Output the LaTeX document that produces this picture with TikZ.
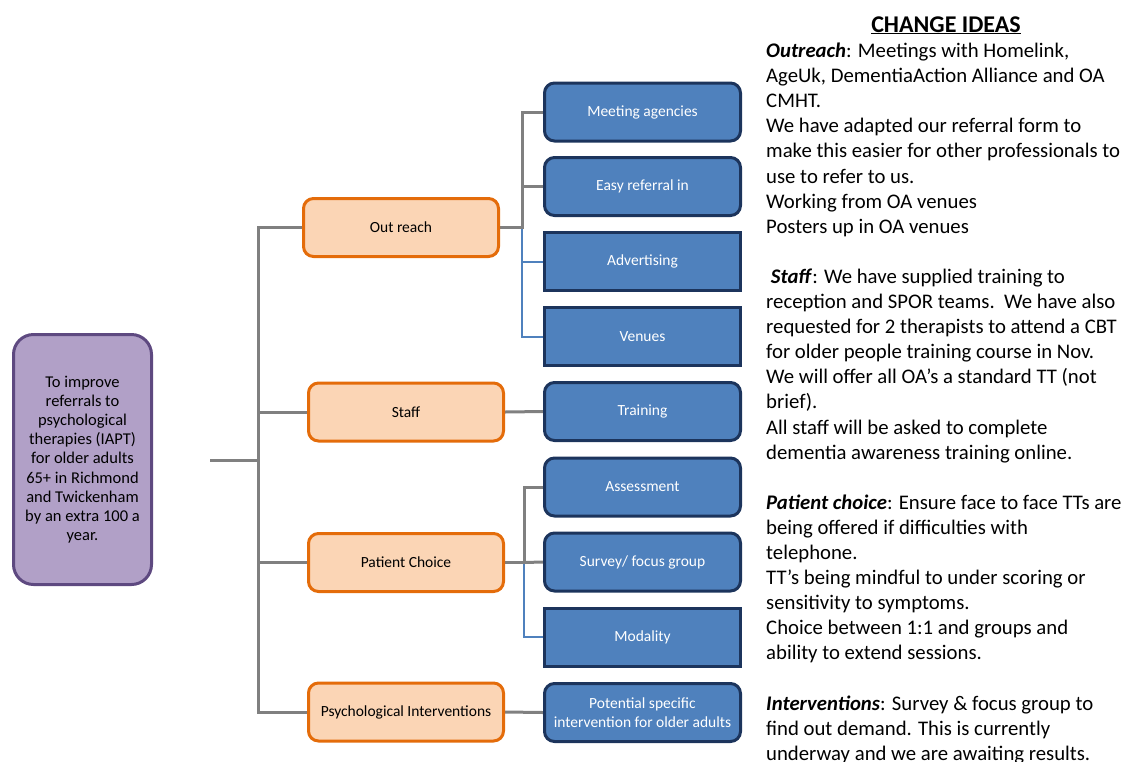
\documentclass[tikz,border=0pt]{standalone}
\usepackage{fontspec}
\setmainfont{Carlito}
\usetikzlibrary{backgrounds}
\definecolor{purfill}{RGB}{177,160,199}
\definecolor{purdraw}{RGB}{94,73,128}
\definecolor{orfill}{RGB}{251,213,181}
\definecolor{ordraw}{RGB}{228,108,10}
\definecolor{blfill}{RGB}{79,129,189}
\definecolor{bldraw}{RGB}{28,52,92}
\definecolor{conngray}{RGB}{128,128,128}
\definecolor{connblue}{RGB}{79,129,189}
\newcommand\ciline[2]{\node[citext] (ci#1) at (766,{57.5+(#1-1)*25.1}) {#2};}
\begin{document}
\begin{tikzpicture}[x=1pt,y=-1pt,
  goalbox/.style={draw=purdraw, fill=purfill, line width=3pt, rounded corners=20pt,
    minimum width=138pt, minimum height=250pt, align=center, inner sep=0pt,
    font=\fontsize{16.5}{19.2}\selectfont},
  catbox/.style={draw=ordraw, fill=orfill, line width=3pt, rounded corners=10pt,
    minimum width=195pt, minimum height=58pt, inner sep=0pt, align=center,
    font=\fontsize{15.5}{19}\selectfont},
  ideabox/.style={draw=bldraw, fill=blfill, line width=3pt, rounded corners=10pt,
    minimum width=196pt, minimum height=58pt, inner sep=0pt, align=center,
    text=white, font=\fontsize{15.5}{18.5}\selectfont},
  sqbox/.style={ideabox, sharp corners},
  gline/.style={draw=conngray, line width=3pt},
  bline/.style={draw=connblue, line width=2pt},
  citext/.style={anchor=base west, inner sep=0pt, font=\fontsize{20.75}{25}\selectfont},
]
\useasboundingbox (0,0) rectangle (1124,761);

% goal
\node[goalbox] (goal) at (82.5,459.5) {To improve\\referrals to\\psychological\\therapies (IAPT)\\for older adults\\65+ in Richmond\\and Twickenham\\by an extra 100 a\\year.};

% categories
\node[catbox] (outreach) at (401,227.5) {Out reach};
\node[catbox] (staff) at (406,412) {Staff};
\node[catbox] (pc) at (406,562.5) {Patient Choice};
\node[catbox] (psych) at (406,712) {Psychological Interventions};

% ideas
\node[ideabox] (meet) at (642.5,112) {Meeting agencies};
\node[ideabox] (easy) at (642.5,186.5) {Easy referral in};
\node[sqbox] (adv) at (642.5,261.5) {Advertising};
\node[sqbox] (venues) at (642.5,336.5) {Venues};
\node[ideabox] (train) at (642.5,411.5) {Training};
\node[ideabox] (assess) at (642.5,487) {Assessment};
\node[ideabox] (survey) at (642.5,562) {Survey/ focus group};
\node[sqbox] (modal) at (642.5,637) {Modality};
\node[ideabox] (pot) at (642.5,712.5) {Potential specific\\intervention for older adults};

\coordinate (in) at (210,460);
\coordinate (tk) at (258,460);
\coordinate (bo) at (522,227.5);
\coordinate (bp) at (524,562.5);

\begin{scope}[on background layer]
\draw[gline] (in) -- (tk);
\draw[gline] (outreach.west) -- (outreach.west -| tk) -- (psych.west -| tk) -- (psych.west);
\draw[gline] (staff.west) -- (staff.west -| tk);
\draw[gline] (pc.west) -- (pc.west -| tk);
% out reach branch
\draw[bline] (bo) |- (venues.west);
\draw[bline] (bo |- adv.west) -- (adv.west);
\draw[gline] (outreach.east) -- (bo) |- (meet.west);
\draw[gline] (bo |- easy.west) -- (easy.west);
% staff
\draw[gline] (staff.east) -- (train.west);
% patient choice branch
\draw[bline] (bp) |- (modal.west);
\draw[gline] (pc.east) -- (bp) |- (assess.west);
\draw[gline] (bp) -- (survey.west);
% psych
\draw[gline] (psych.east) -- (pot.west);
\end{scope}

% change ideas text
\node[anchor=base, inner sep=0pt, font=\fontsize{24}{28}\selectfont\bfseries] (title) at (946,32) {\underline{CHANGE IDEAS}};
\ciline{1}{\textbf{\textit{Outreach}}: Meetings with Homelink,}
\ciline{2}{AgeUk, DementiaAction Alliance and OA}
\ciline{3}{CMHT.}
\ciline{4}{We have adapted our referral form to}
\ciline{5}{make this easier for other professionals to}
\ciline{6}{use to refer to us.}
\ciline{7}{Working from OA venues}
\ciline{8}{Posters up in OA venues}
\ciline{10}{\ \textbf{\textit{Staff}}: We have supplied training to}
\ciline{11}{reception and SPOR teams.\ \ We have also}
\ciline{12}{requested for 2 therapists to attend a CBT}
\ciline{13}{for older people training course in Nov.}
\ciline{14}{We will offer all OA’s a standard TT (not}
\ciline{15}{brief).}
\ciline{16}{All staff will be asked to complete}
\ciline{17}{dementia awareness training online.}
\ciline{19}{\textbf{\textit{Patient choice}}: Ensure face to face TTs are}
\ciline{20}{being offered if difficulties with}
\ciline{21}{telephone.}
\ciline{22}{TT’s being mindful to under scoring or}
\ciline{23}{sensitivity to symptoms.}
\ciline{24}{Choice between 1:1 and groups and}
\ciline{25}{ability to extend sessions.}
\ciline{27}{\textbf{\textit{Interventions}}: Survey \& focus group to}
\ciline{28}{find out demand. This is currently}
\ciline{29}{underway and we are awaiting results.}
\end{tikzpicture}
\end{document}
